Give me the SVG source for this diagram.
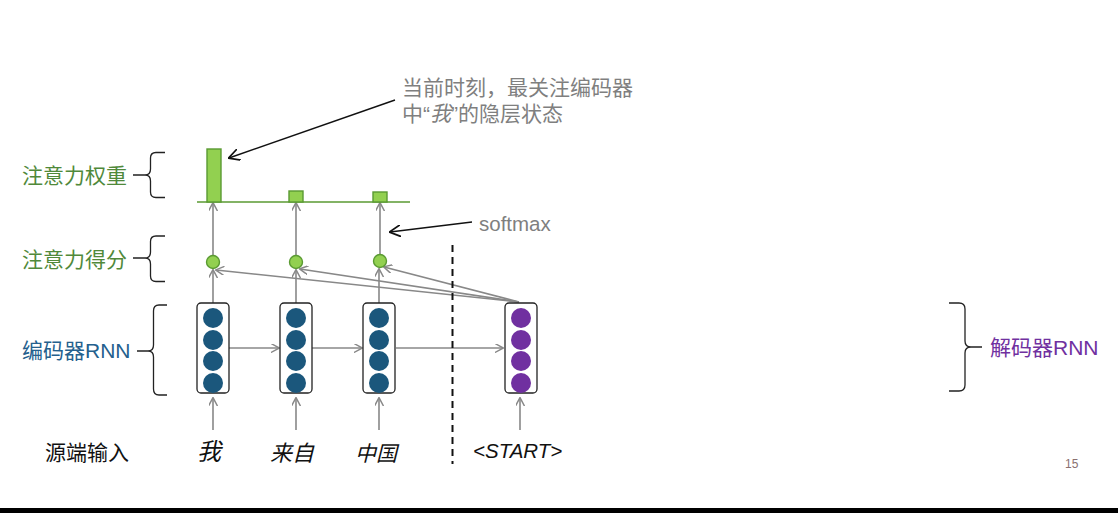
<svg xmlns="http://www.w3.org/2000/svg" width="1118" height="513" viewBox="0 0 1118 513">
  <defs>
    <marker id="ag" viewBox="0 0 10 10" refX="9" refY="5" markerWidth="9" markerHeight="9" markerUnits="userSpaceOnUse" orient="auto">
      <path d="M0,0 L9.5,5 L0,10" fill="none" stroke="#888" stroke-width="1.6"/>
    </marker>
    <marker id="ak" viewBox="0 0 10 10" refX="9" refY="5" markerWidth="12" markerHeight="12" markerUnits="userSpaceOnUse" orient="auto">
      <path d="M0,0 L9.5,5 L0,10" fill="none" stroke="#111" stroke-width="1.4"/>
    </marker>
    <style>
      .cn { font-family: "Noto Sans CJK SC", "Liberation Sans", sans-serif; font-size: 21px; }
      .lat { font-family: "Liberation Sans", "Noto Sans CJK SC", sans-serif; }
      .green { fill: #50893a; }
      .blue { fill: #24608d; }
      .purple { fill: #7030a0; }
      .gray { fill: #7f7f7f; }
      .conn { stroke: #888; stroke-width: 1.6; fill: none; marker-end: url(#ag); }
      .brace { stroke: #222; stroke-width: 1.3; fill: none; }
      .box { fill: #fff; stroke: #222; stroke-width: 1.3; }
      .enc { fill: #1b577c; }
      .dec { fill: #7030a0; }
      .score { fill: #92d050; stroke: #5a9a32; stroke-width: 1.4; }
      .bar { fill: #92d050; stroke: #5a9a32; stroke-width: 1.4; }
      .it { font-style: italic; }
    </style>
  </defs>
  <rect width="1118" height="513" fill="#fff"/>

  <g id="labels">
    <text class="cn green" x="22" y="183">注意力权重</text>
    <text class="cn green" x="22" y="267">注意力得分</text>
    <text class="cn blue" x="22" y="358">编码器<tspan class="lat">RNN</tspan></text>
    <text class="cn purple" x="990" y="355">解码器<tspan class="lat">RNN</tspan></text>
    <text class="cn" x="45" y="460" fill="#111">源端输入</text>
  </g>

  <g id="braces">
    <path class="brace" d="M165,152.5 L156,152.5 Q150.5,152.5 150.5,158 L150.5,169 Q150.5,175 145,175 L133,175 M145,175 Q150.5,175 150.5,181 L150.5,192 Q150.5,197.5 156,197.5 L165,197.5"/>
    <path class="brace" d="M165,236 L156,236 Q150.5,236 150.5,241.5 L150.5,252 Q150.5,258 145,258 L133,258 M145,258 Q150.5,258 150.5,264 L150.5,276 Q150.5,281.5 156,281.5 L165,281.5"/>
    <path class="brace" d="M167,305 L159,305 Q153.5,305 153.5,311 L153.5,345 Q153.5,351 148,351 L137,351 M148,351 Q153.5,351 153.5,357 L153.5,389 Q153.5,395 159,395 L167,395"/>
    <path class="brace" d="M949,303 L959,303 Q965,303 965,309 L965,341 Q965,347 971,347 L982,347 M971,347 Q965,347 965,353 L965,385 Q965,391 959,391 L949,391"/>
  </g>

  <g id="connectors">
    <line class="conn" x1="213" y1="430" x2="213" y2="398"/>
    <line class="conn" x1="296" y1="430" x2="296" y2="398"/>
    <line class="conn" x1="379" y1="430" x2="379" y2="398"/>
    <line class="conn" x1="520" y1="430" x2="520" y2="398"/>
    <line class="conn" x1="229" y1="348" x2="279" y2="348"/>
    <line class="conn" x1="312" y1="348" x2="362" y2="348"/>
    <line class="conn" x1="396" y1="348" x2="503" y2="348"/>
    <line class="conn" x1="213" y1="303" x2="213" y2="270"/>
    <line class="conn" x1="296" y1="303" x2="296" y2="270"/>
    <line class="conn" x1="379" y1="303" x2="379" y2="269"/>
    <line class="conn" x1="519" y1="302" x2="216" y2="270"/>
    <line class="conn" x1="519" y1="302" x2="300" y2="269"/>
    <line class="conn" x1="519" y1="302" x2="384" y2="267"/>
    <line class="conn" x1="213" y1="255" x2="213" y2="203"/>
    <line class="conn" x1="296" y1="255" x2="296" y2="203"/>
    <line class="conn" x1="380" y1="254" x2="380" y2="203"/>
    <line x1="395" y1="100" x2="229" y2="158" stroke="#111" stroke-width="1.4" marker-end="url(#ak)"/>
    <line x1="472" y1="222" x2="390" y2="232" stroke="#111" stroke-width="1.4" marker-end="url(#ak)"/>
    <line x1="452.5" y1="245" x2="452.5" y2="464" stroke="#111" stroke-width="2" stroke-dasharray="7,5"/>
  </g>

  <g id="weights">
    <line x1="197" y1="202" x2="410" y2="202" stroke="#5a9a32" stroke-width="1.6"/>
    <rect class="bar" x="207" y="149" width="14" height="53"/>
    <rect class="bar" x="289" y="191" width="14" height="11"/>
    <rect class="bar" x="373" y="192" width="14" height="10"/>
  </g>

  <g id="scores">
    <circle class="score" cx="213" cy="262" r="6.5"/>
    <circle class="score" cx="296" cy="262" r="6.5"/>
    <circle class="score" cx="380" cy="261" r="6.5"/>
  </g>

  <g id="enc1">
    <rect class="box" x="197" y="303" width="32" height="90" rx="4"/>
    <circle class="enc" cx="213" cy="318" r="10"/><circle class="enc" cx="213" cy="340" r="10"/><circle class="enc" cx="213" cy="361" r="10"/><circle class="enc" cx="213" cy="383" r="10"/>
  </g>
  <g id="enc2">
    <rect class="box" x="280" y="303" width="32" height="90" rx="4"/>
    <circle class="enc" cx="296" cy="318" r="10"/><circle class="enc" cx="296" cy="340" r="10"/><circle class="enc" cx="296" cy="361" r="10"/><circle class="enc" cx="296" cy="383" r="10"/>
  </g>
  <g id="enc3">
    <rect class="box" x="363" y="303" width="32" height="90" rx="4"/>
    <circle class="enc" cx="379" cy="318" r="10"/><circle class="enc" cx="379" cy="340" r="10"/><circle class="enc" cx="379" cy="361" r="10"/><circle class="enc" cx="379" cy="383" r="10"/>
  </g>
  <g id="dec1">
    <rect class="box" x="505" y="303" width="32" height="90" rx="4"/>
    <circle class="dec" cx="521" cy="318" r="10"/><circle class="dec" cx="521" cy="340" r="10"/><circle class="dec" cx="521" cy="361" r="10"/><circle class="dec" cx="521" cy="383" r="10"/>
  </g>

  <g id="inputs">
    <text class="cn it" x="197" y="460" fill="#111" style="font-size:24px">我</text>
    <text class="cn it" x="270" y="461" fill="#111" style="font-size:22px">来自</text>
    <text class="cn it" x="355" y="461" fill="#111" style="font-size:21px">中国</text>
    <text class="lat it" x="473" y="458" font-size="20.5" fill="#111">&lt;START&gt;</text>
  </g>

  <g id="annotations">
    <text class="cn gray" x="402" y="95">当前时刻，最关注编码器<tspan x="402" dy="26">中</tspan><tspan class="lat">“</tspan><tspan class="it">我</tspan><tspan class="lat">”</tspan>的隐层状态</text>
    <text class="lat gray" x="479" y="231" font-size="20.5">softmax</text>
  </g>

  <text class="lat" x="1065" y="468" font-size="12" fill="#8a7070">15</text>
  <rect x="0" y="508" width="1118" height="5" fill="#000"/>
</svg>
